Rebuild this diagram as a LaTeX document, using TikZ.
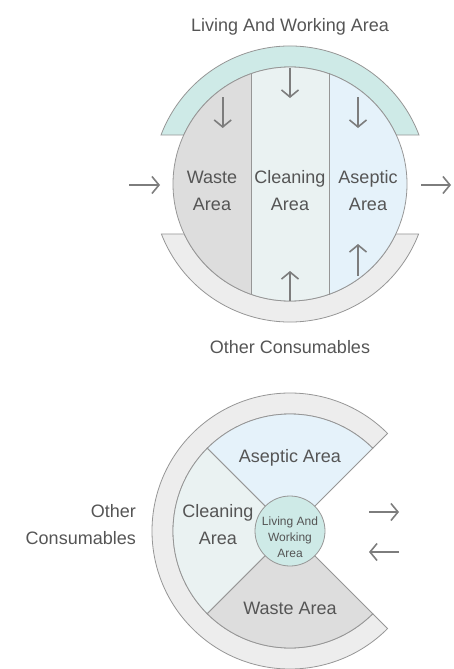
\documentclass[tikz,border=0pt]{standalone}
\usepackage{fontspec}
\setmainfont{Liberation Sans}
\usetikzlibrary{arrows.meta, calc}
\definecolor{txtgray}{RGB}{85,85,85}
\definecolor{linegray}{RGB}{150,150,150}
\definecolor{arrowgray}{RGB}{125,125,125}
\definecolor{bandteal}{RGB}{206,234,231}
\definecolor{bandgray}{RGB}{237,237,237}
\definecolor{wastefill}{RGB}{221,221,221}
\definecolor{cleanfill}{RGB}{234,242,242}
\definecolor{asepfill}{RGB}{229,242,250}
\tikzstyle{areatext} = [text=txtgray, font=\fontsize{18}{27}\selectfont, align=center, inner sep=0pt]
\tikzstyle{hubtext} = [text=txtgray, font=\fontsize{12}{16}\selectfont, align=center, inner sep=0pt]
\tikzstyle{edgeline} = [draw=linegray, line width=0.8pt]
\tikzstyle{arrow} = [draw=arrowgray, line width=1.6pt, -{Straight Barb[length=7pt,width=17pt]}]

\begin{document}
\begin{tikzpicture}[x=1pt,y=1pt]
		\useasboundingbox (0,0) rectangle (454,-669);
		% top diagram
		\coordinate (top) at (290,-184);
		\path[edgeline, fill=bandteal] ($(top)+(20.8:138)$) arc[start angle=20.8, end angle=159.2, radius=138]
			-- ($(top)+(155.24:117)$) arc[start angle=155.24, end angle=24.76, radius=117] -- cycle;
		\path[edgeline, fill=bandgray] ($(top)+(-21.24:138)$) arc[start angle=-21.24, end angle=-158.76, radius=138]
			-- ($(top)+(-154.7:117)$) arc[start angle=-154.7, end angle=-25.3, radius=117] -- cycle;
		\begin{scope}
			\clip (top) circle[radius=117];
			\fill[wastefill] (170,-60) rectangle (251.7,-310);
			\fill[cleanfill] (251.7,-60) rectangle (329.3,-310);
			\fill[asepfill] (329.3,-60) rectangle (410,-310);
		\end{scope}
		\draw[edgeline] (251.7,-73.4) -- (251.7,-294.6);
		\draw[edgeline] (329.3,-73.4) -- (329.3,-294.6);
		\draw[edgeline] (top) circle[radius=117];
		\node (living) [areatext] at (290,-27) {Living And Working Area};
		\node (other) [areatext] at (290,-347) {Other Consumables};
		\node (waste) [areatext] at (212,-191) {Waste\\Area};
		\node (cleaning) [areatext] at (290,-191) {Cleaning\\Area};
		\node (aseptic) [areatext] at (368,-191) {Aseptic\\Area};
		\coordinate (wastein) at (222.7,-97);
		\coordinate (wasteend) at (222.7,-128);
		\coordinate (cleanin) at (290,-68);
		\coordinate (cleanend) at (290,-98);
		\coordinate (asepin) at (358,-97);
		\coordinate (asepend) at (358,-128);
		\coordinate (cleanup) at (290,-301);
		\coordinate (cleanupend) at (290,-271);
		\coordinate (asepup) at (358,-276);
		\coordinate (asepupend) at (358,-244);
		\coordinate (entry) at (129,-185);
		\coordinate (entryend) at (160,-185);
		\coordinate (exit) at (421,-185);
		\coordinate (exitend) at (451,-185);
		\draw [arrow] (wastein) -- (wasteend);
		\draw [arrow] (cleanin) -- (cleanend);
		\draw [arrow] (asepin) -- (asepend);
		\draw [arrow] (cleanup) -- (cleanupend);
		\draw [arrow] (asepup) -- (asepupend);
		\draw [arrow] (entry) -- (entryend);
		\draw [arrow] (exit) -- (exitend);
		% bottom diagram
		\coordinate (bot) at (290,-531);
		\path[edgeline, fill=bandgray] ($(bot)+(45:138)$) arc[start angle=45, end angle=315, radius=138]
			-- ($(bot)+(315:117)$) arc[start angle=315, end angle=45, radius=117] -- cycle;
		\path[edgeline, fill=asepfill] (bot) -- ($(bot)+(45:117)$) arc[start angle=45, end angle=135, radius=117] -- cycle;
		\path[edgeline, fill=cleanfill] (bot) -- ($(bot)+(135:117)$) arc[start angle=135, end angle=225, radius=117] -- cycle;
		\path[edgeline, fill=wastefill] (bot) -- ($(bot)+(225:117)$) arc[start angle=225, end angle=315, radius=117] -- cycle;
		\node (hub) [circle, edgeline, fill=bandteal, minimum size=70pt, inner sep=0pt] at (bot) {};
		\node (hubtxt) [hubtext] at (290,-537) {Living And\\Working\\Area};
		\node (aseptic2) [areatext] at (290,-458) {Aseptic Area};
		\node (cleaning2) [areatext] at (218,-525) {Cleaning\\Area};
		\node (waste2) [areatext] at (290,-608) {Waste Area};
		\node (other2) [areatext, align=right, anchor=east] at (136,-525) {Other\\Consumables};
		\coordinate (out) at (369,-512);
		\coordinate (outend) at (399,-512);
		\coordinate (in) at (399,-552);
		\coordinate (inend) at (369,-552);
		\draw [arrow] (out) -- (outend);
		\draw [arrow] (in) -- (inend);
\end{tikzpicture}
\end{document}
